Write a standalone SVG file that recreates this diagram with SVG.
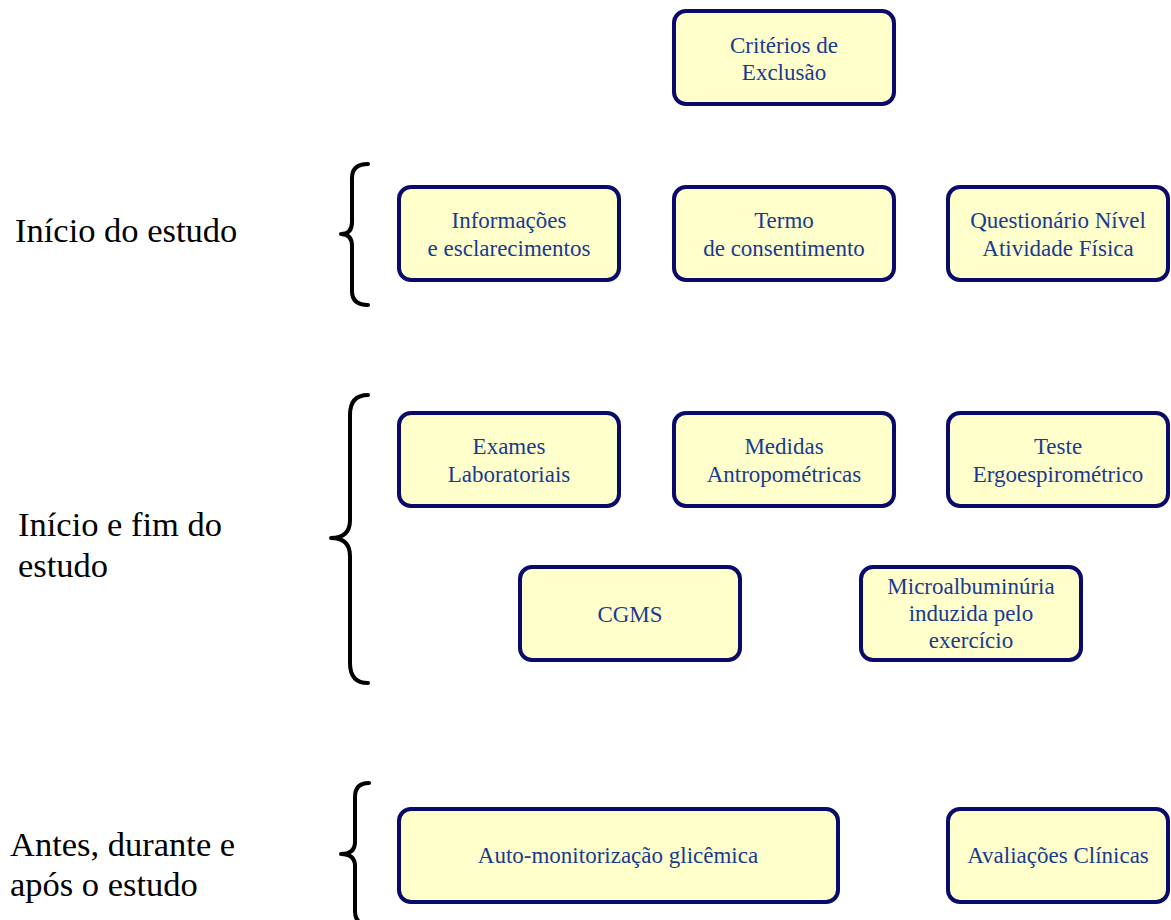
<svg xmlns="http://www.w3.org/2000/svg" width="1171" height="920" viewBox="0 0 1171 920">
<style>
.box{fill:#ffffcc;stroke:#0a0a6b;stroke-width:4}
.bt{font-family:"Liberation Serif","Times New Roman",serif;font-size:23px;fill:#1a3a8e;text-anchor:middle}
.lbl{font-family:"Liberation Serif","Times New Roman",serif;font-size:34.5px;fill:#000}
.brace{fill:none;stroke:#000;stroke-width:4;stroke-linecap:round;stroke-linejoin:round}
</style>
<rect width="1171" height="920" fill="#fff"/>
<g id="connectors">
<path class="brace" d="M368,164 Q352,164 352,178 L352,222 Q352,234 341,234 Q352,234 352,246 L352,291 Q352,305 368,305"/>
<path class="brace" d="M368,395 Q350,395 350,415 L350,520 Q350,538 331,538 Q350,538 350,556 L350,663 Q350,683 368,683"/>
<path class="brace" d="M369,783 Q355,783 355,797 L355,842 Q355,854 341,854 Q355,854 355,866 L355,911 Q355,925 369,925"/>
</g>
<g id="label-inicio"><text class="lbl" x="15" y="242">Início do estudo</text></g>
<g id="label-iniciofim"><text class="lbl" x="18" y="536">Início e fim do</text><text class="lbl" x="18" y="577">estudo</text></g>
<g id="label-antes"><text class="lbl" x="10" y="856">Antes, durante e</text><text class="lbl" x="10" y="896">após o estudo</text></g>
<g id="criterios"><rect class="box" x="674" y="11" width="220" height="93" rx="12"/><text class="bt" x="784" y="53">Critérios de</text><text class="bt" x="784" y="80">Exclusão</text></g>
<g id="informacoes"><rect class="box" x="399" y="187" width="220" height="93" rx="12"/><text class="bt" x="509" y="228">Informações</text><text class="bt" x="509" y="256">e esclarecimentos</text></g>
<g id="termo"><rect class="box" x="674" y="187" width="220" height="93" rx="12"/><text class="bt" x="784" y="228">Termo</text><text class="bt" x="784" y="256">de consentimento</text></g>
<g id="questionario"><rect class="box" x="948" y="187" width="220" height="93" rx="12"/><text class="bt" x="1058" y="228">Questionário Nível</text><text class="bt" x="1058" y="256">Atividade Física</text></g>
<g id="exames"><rect class="box" x="399" y="413" width="220" height="93" rx="12"/><text class="bt" x="509" y="454">Exames</text><text class="bt" x="509" y="482">Laboratoriais</text></g>
<g id="medidas"><rect class="box" x="674" y="413" width="220" height="93" rx="12"/><text class="bt" x="784" y="454">Medidas</text><text class="bt" x="784" y="482">Antropométricas</text></g>
<g id="teste"><rect class="box" x="948" y="413" width="220" height="93" rx="12"/><text class="bt" x="1058" y="454">Teste</text><text class="bt" x="1058" y="482">Ergoespirométrico</text></g>
<g id="cgms"><rect class="box" x="520" y="567" width="220" height="93" rx="12"/><text class="bt" x="630" y="622">CGMS</text></g>
<g id="microalbuminuria"><rect class="box" x="861" y="567" width="220" height="93" rx="12"/><text class="bt" x="971" y="594">Microalbuminúria</text><text class="bt" x="971" y="621">induzida pelo</text><text class="bt" x="971" y="648">exercício</text></g>
<g id="auto"><rect class="box" x="399" y="809" width="439" height="93" rx="12"/><text class="bt" x="618" y="863">Auto-monitorização glicêmica</text></g>
<g id="avaliacoes"><rect class="box" x="948" y="809" width="220" height="93" rx="12"/><text class="bt" x="1058" y="863">Avaliações Clínicas</text></g>
</svg>
